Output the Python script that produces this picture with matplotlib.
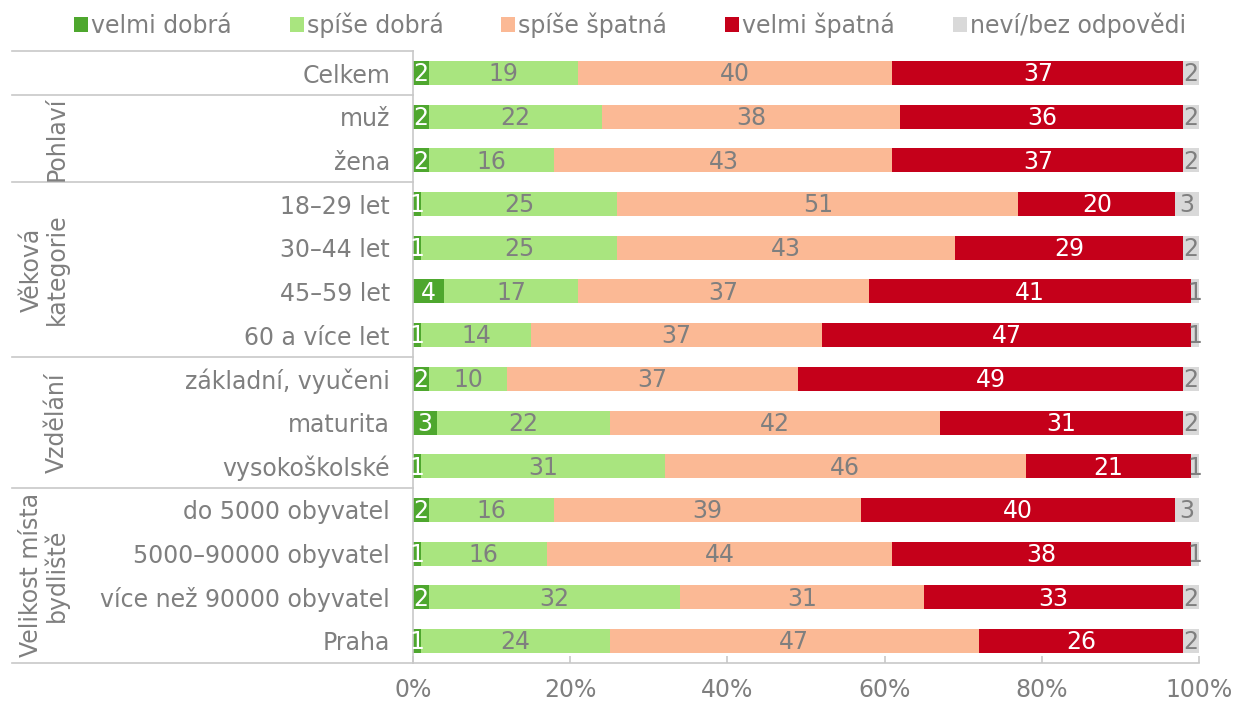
import matplotlib
matplotlib.use('Agg')
import matplotlib.pyplot as plt
import matplotlib.transforms as mtransforms
from matplotlib.patches import Patch
import numpy as np

plt.rcParams['font.family'] = ['DejaVu Sans']

# ---------------- data ----------------

rows = ['Celkem', 'muž', 'žena', '18–29 let', '30–44 let', '45–59 let', '60 a více let',
        'základní, vyučeni', 'maturita', 'vysokoškolské',
        'do 5000 obyvatel', '5000–90000 obyvatel', 'více než 90000 obyvatel', 'Praha']

series = ['velmi dobrá', 'spíše dobrá', 'spíše špatná', 'velmi špatná', 'neví/bez odpovědi']

velmi_dobra = [2, 2, 2, 1, 1, 4, 1, 2, 3, 1, 2, 1, 2, 1]
spise_dobra = [19, 22, 16, 25, 25, 17, 14, 10, 22, 31, 16, 16, 32, 24]
spise_spatna = [40, 38, 43, 51, 43, 37, 37, 37, 42, 46, 39, 44, 31, 47]
velmi_spatna = [37, 36, 37, 20, 29, 41, 47, 49, 31, 21, 40, 38, 33, 26]
nevi = [2, 2, 2, 3, 2, 1, 1, 2, 2, 1, 3, 1, 2, 2]

# groups: (label, first row, last row)
groups = [('Pohlaví', 1, 2), ('Věková\nkategorie', 3, 6), ('Vzdělání', 7, 9),
          ('Velikost místa\nbydliště', 10, 13)]

xticks = [0, 20, 40, 60, 80, 100]

# ---------------- style ----------------

colors = ['#4EA72E', '#A9E57F', '#FBB995', '#C5001A', '#D9D9D9']
label_colors = ['white', '#7F7F7F', '#7F7F7F', 'white', '#7F7F7F']
GRAY = '#7F7F7F'
LINE = '#C8C8C8'
FS = 17

fig = plt.figure(figsize=(12.37, 7.05), dpi=100)
ax = fig.add_axes([413 / 1237, 1 - 662.8 / 705, (1199 - 413) / 1237, (662.8 - 51.2) / 705])

values = np.array([velmi_dobra, spise_dobra, spise_spatna, velmi_spatna, nevi], dtype=float)
shares = values / values.sum(axis=0) * 100
y = np.arange(len(rows))

left = np.zeros(len(rows))
for i in range(len(series)):
    ax.barh(y, shares[i], left=left, height=0.55, color=colors[i], label=series[i])
    for j in range(len(rows)):
        ax.text(left[j] + shares[i][j] / 2, y[j] + 0.03, '%d' % values[i][j], ha='center', va='center',
                color=label_colors[i], fontsize=FS)
    left += shares[i]

ax.set_xlim(0, 100)
ax.set_ylim(len(rows) - 0.5, -0.5)
ax.set_xticks(xticks)
ax.set_xticklabels(['%d%%' % t for t in xticks])
ax.tick_params(axis='x', direction='in', length=5, color=LINE, width=1.2, labelsize=FS,
               labelcolor=GRAY, pad=11)
ax.set_yticks(y)
ax.set_yticklabels(rows)
ax.tick_params(axis='y', length=0, labelsize=FS, labelcolor=GRAY, pad=23 * 0.72)

for s in ['top', 'right']:
    ax.spines[s].set_visible(False)
for s in ['left', 'bottom']:
    ax.spines[s].set_color(LINE)
    ax.spines[s].set_linewidth(1.2)

# ---- multi-level category separators ----
trans = mtransforms.blended_transform_factory(ax.transAxes, ax.transData)
x_left = (12 - 413) / (1199 - 413)
for b in [-0.5, 0.5, 2.5, 6.5, 9.5, 13.5]:
    ax.plot([x_left, 0], [b, b], color=LINE, lw=1.2, transform=trans, clip_on=False)

for name, a, b in groups:
    xc = (57 - 413) / 786 if '\n' not in name else (44 - 413) / 786
    ax.text(xc, (a + b) / 2, name, rotation=90, ha='center', va='center', multialignment='center',
            color=GRAY, fontsize=FS, transform=trans, linespacing=1.05)

handles = [Patch(facecolor=c, edgecolor='none') for c in colors]
fig.legend(handles, series, loc='center', bbox_to_anchor=(630 / 1237, 1 - 25 / 705), ncol=5,
           frameon=False, fontsize=FS, handlelength=0.59, handleheight=0.59, handletextpad=0.13,
           columnspacing=2.45, borderpad=0, labelcolor=GRAY)

fig.savefig('out.png', dpi=100)
